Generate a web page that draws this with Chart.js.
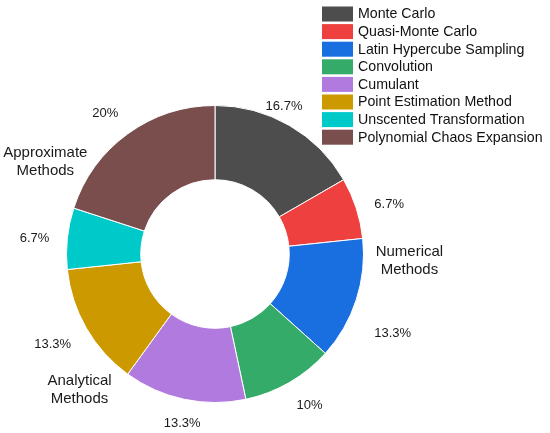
<!DOCTYPE html>
<html>
<head>
<meta charset="utf-8">
<script src="https://cdn.jsdelivr.net/npm/chart.js@4"></script>
<style>
  html, body { margin: 0; padding: 0; background: #fff; }
  #wrap { width: 550px; height: 433px; }
</style>
</head>
<body>
<div id="wrap"><canvas id="chart" width="550" height="433"></canvas></div>
<script>
const methods = [
  'Monte Carlo', 'Quasi-Monte Carlo', 'Latin Hypercube Sampling', 'Convolution',
  'Cumulant', 'Point Estimation Method', 'Unscented Transformation', 'Polynomial Chaos Expansion'
];
const counts = [5, 2, 4, 3, 4, 4, 2, 6];
const shareLabels = ['16.7%', '6.7%', '13.3%', '10%', '13.3%', '13.3%', '6.7%', '20%'];
const colors = ['#4d4d4d', '#ef4040', '#1a6fe0', '#35ab69', '#b07ade', '#cc9a00', '#00c9c9', '#7b4e4e'];

const groupNames = [['Numerical', 'Methods'], ['Analytical', 'Methods'], ['Approximate', 'Methods']];

// label placement: radius as multiple of outer radius, angle nudge in degrees
const shareLabelPlace = [
  { r: 1.10, da: -5 }, { r: 1.22, da: 2 }, { r: 1.31, da: 6 }, { r: 1.20, da: -2 },
  { r: 1.16, da: -1 }, { r: 1.25, da: 1 }, { r: 1.22, da: -1 }, { r: 1.20, da: -2 }
];
const groupLabelPlace = [{ a: 92, r: 1.31 }, { a: 225, r: 1.29 }, { a: 298.5, r: 1.30 }];

const FONT = '"Liberation Sans", Arial, sans-serif';

const labelPlugin = {
  id: 'sliceLabels',
  afterDraw(chart) {
    const ctx = chart.ctx;
    const meta = chart.getDatasetMeta(0);
    const arc0 = meta.data[0];
    const cx = arc0.x, cy = arc0.y, R = arc0.outerRadius;
    ctx.save();
    ctx.fillStyle = '#1a1a1a';
    ctx.font = '13px ' + FONT;
    ctx.textAlign = 'center';
    ctx.textBaseline = 'middle';
    meta.data.forEach((arc, i) => {
      const mid = (arc.startAngle + arc.endAngle) / 2 + shareLabelPlace[i].da * Math.PI / 180;
      const r = R * shareLabelPlace[i].r;
      ctx.fillText(shareLabels[i], cx + r * Math.cos(mid), cy + r * Math.sin(mid));
    });
    ctx.font = '15px ' + FONT;
    groupNames.forEach((lines, i) => {
      const a = (groupLabelPlace[i].a - 90) * Math.PI / 180;
      const r = R * groupLabelPlace[i].r;
      const x = cx + r * Math.cos(a), y = cy + r * Math.sin(a);
      ctx.fillText(lines[0], x, y - 9);
      ctx.fillText(lines[1], x, y + 9);
    });

    // legend
    ctx.textAlign = 'left';
    ctx.font = '14.2px ' + FONT;
    methods.forEach((name, i) => {
      const y = 14 + i * 17.6;
      ctx.fillStyle = colors[i];
      ctx.fillRect(322, y - 7.5, 31, 15);
      ctx.fillStyle = '#111';
      ctx.fillText(name, 358, y + 0.5);
    });
    ctx.restore();
  }
};

new Chart(document.getElementById('chart'), {
  type: 'doughnut',
  data: {
    labels: methods,
    datasets: [{
      data: counts,
      backgroundColor: colors,
      borderColor: '#ffffff',
      borderWidth: 1
    }]
  },
  options: {
    responsive: false,
    animation: false,
    cutout: '50%',
    layout: { padding: { left: 66, right: 186, top: 105, bottom: 30 } },
    plugins: {
      legend: { display: false },
      tooltip: { enabled: false }
    }
  },
  plugins: [labelPlugin]
});
</script>
</body>
</html>
